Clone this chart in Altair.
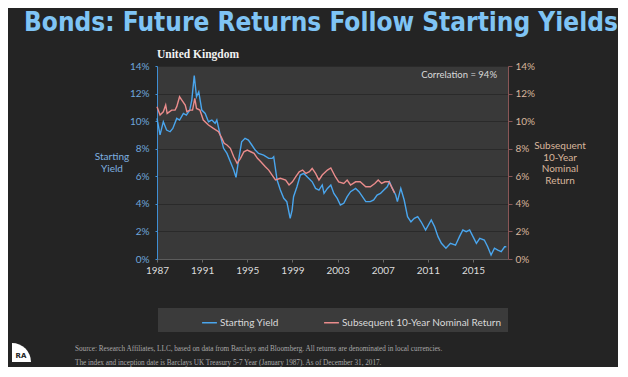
import altair as alt
import pandas as pd

# ---- data ----
yield_years = [1987.0, 1987.27, 1987.56, 1987.85, 1988.16, 1988.4, 1988.75, 1989.0, 1989.34, 1989.6,
               1989.9, 1990.08, 1990.3, 1990.5, 1990.7, 1990.97, 1991.27, 1991.56, 1991.86, 1992.15,
               1992.3, 1992.6, 1992.9, 1993.2, 1993.5, 1993.8, 1994.0, 1994.23, 1994.5, 1994.8,
               1995.1, 1995.4, 1995.7, 1996.0, 1996.45, 1996.9, 1997.2, 1997.34, 1997.64, 1997.93,
               1998.23, 1998.5, 1998.8, 1998.97, 1999.1, 1999.4, 1999.7, 2000.0, 2000.3, 2000.75,
               2001.05, 2001.35, 2001.64, 2001.8, 2002.1, 2002.4, 2002.67, 2002.97, 2003.25, 2003.55,
               2003.85, 2004.15, 2004.6, 2004.9, 2005.2, 2005.5, 2005.9, 2006.2, 2006.5, 2006.8,
               2007.1, 2007.4, 2007.6, 2007.85, 2008.15, 2008.3, 2008.6, 2008.9, 2009.2, 2009.5,
               2009.8, 2010.1, 2010.4, 2010.8, 2011.3, 2011.6, 2011.9, 2012.2, 2012.6, 2013.0,
               2013.45, 2013.8, 2014.1, 2014.4, 2014.7, 2015.0, 2015.3, 2015.6, 2016.0, 2016.3,
               2016.6, 2016.9, 2017.2, 2017.5, 2017.8, 2017.95]
yield_values = [10.2, 9.0, 9.96, 9.35, 9.23, 9.47, 10.2, 10.08, 10.56, 10.44,
                10.8, 11.5, 13.3, 11.77, 12.13, 10.8, 10.56, 9.96, 10.08, 9.84,
                10.08, 9.0, 8.03, 7.66, 7.06, 6.45, 5.92, 7.18, 8.5, 8.75,
                8.63, 8.27, 7.9, 7.66, 7.54, 7.3, 7.3, 7.42, 5.73, 5.0,
                4.4, 4.16, 2.95, 3.55, 4.52, 5.24, 6.09, 6.21, 5.97, 5.6,
                5.12, 5.0, 5.37, 4.76, 5.12, 5.37, 4.76, 4.4, 3.92, 4.04,
                4.52, 4.88, 5.12, 4.88, 4.52, 4.16, 4.16, 4.28, 4.64, 4.76,
                5.0, 5.24, 5.6, 5.12, 4.64, 4.16, 5.12, 4.28, 3.07, 2.7,
                2.95, 3.07, 2.7, 2.1, 2.83, 2.34, 1.62, 1.14, 0.78, 1.14,
                1.0, 1.62, 2.1, 1.98, 2.1, 1.62, 1.14, 1.5, 1.38, 0.89,
                0.29, 0.78, 0.65, 0.53, 0.89, 0.89]

return_years = [1987.0, 1987.27, 1987.56, 1987.77, 1987.9, 1988.3, 1988.6, 1988.75, 1989.0, 1989.2,
                1989.5, 1989.65, 1989.9, 1990.15, 1990.35, 1990.5, 1990.8, 1991.1, 1991.56, 1992.0,
                1992.45, 1992.75, 1992.95, 1993.2, 1993.5, 1993.8, 1994.1, 1994.4, 1994.7, 1995.0,
                1995.3, 1995.6, 1995.9, 1996.2, 1996.6, 1996.9, 1997.2, 1997.5, 1997.93, 1998.4,
                1998.7, 1999.0, 1999.3, 1999.6, 1999.9, 2000.2, 2000.5, 2000.75, 2001.05, 2001.35,
                2001.64, 2002.1, 2002.4, 2002.8, 2003.1, 2003.55, 2003.85, 2004.15, 2004.6, 2005.0,
                2005.5, 2005.9, 2006.3, 2006.6, 2006.9, 2007.2, 2007.55, 2007.85, 2008.05]
return_values = [11.05, 10.44, 10.68, 11.17, 10.56, 10.8, 10.8, 11.05, 11.77, 11.53,
                 11.17, 10.68, 10.8, 10.8, 11.65, 10.92, 10.8, 10.08, 9.72, 9.47,
                 9.23, 8.75, 8.39, 8.27, 8.03, 7.42, 6.94, 7.3, 7.78, 7.9,
                 7.78, 7.66, 7.3, 7.06, 6.69, 6.45, 6.09, 5.73, 5.85, 5.73,
                 5.37, 5.6, 5.97, 6.33, 6.45, 6.21, 6.33, 6.57, 6.21, 5.73,
                 6.09, 6.45, 6.6, 5.97, 5.6, 5.48, 5.73, 5.37, 5.6, 5.6,
                 5.24, 5.24, 5.48, 5.73, 5.48, 5.6, 5.6, 5.12, 4.8]

series_names = ["Starting Yield", "Subsequent 10-Year Nominal Return"]
series_colors = ["#4aa6ee", "#ea8c8c"]
year_ticks = [1987, 1991, 1995, 1999, 2003, 2007, 2011, 2015]
pct_ticks = [0, 2, 4, 6, 8, 10, 12, 14]

title_text = "Bonds: Future Returns Follow Starting Yields"
subtitle_text = "United Kingdom"
corr_text = "Correlation = 94%"
left_axis_title = "Starting\nYield"
right_axis_title = "Subsequent\n10-Year\nNominal\nReturn"
footer_lines = [
    "Source: Research Affiliates, LLC, based on data from Barclays and Bloomberg. All returns are denominated in local currencies.",
    "The index and inception date is Barclays UK Treasury 5-7 Year (January 1987). As of December 31, 2017.",
]

# ---- tables ----
yield_df = pd.DataFrame({"year": yield_years, "value": yield_values, "series": series_names[0]})
return_df = pd.DataFrame({"year": return_years, "value": return_values, "series": series_names[1]})

W, H = 351, 193
FONT = "Lato"

x_enc = alt.X("year:Q",
              scale=alt.Scale(domain=[1987, 2018.1], nice=False, zero=False),
              axis=alt.Axis(values=year_ticks, format="d", title=None, grid=False, labelFlush=False,
                            labelColor="#dcdcdc", labelFontSize=10, labelFont=FONT, labelPadding=3,
                            domainColor="#5c5c5c", tickColor="#6a6a6a", tickSize=3))

color_enc = alt.Color("series:N",
                      scale=alt.Scale(domain=series_names, range=series_colors),
                      legend=alt.Legend(orient="none", legendX=44, legendY=248, direction="horizontal",
                                        title=None, symbolType="stroke", symbolSize=220,
                                        symbolStrokeWidth=1.5, labelColor="#d9d9d9", labelFontSize=10,
                                        labelFont=FONT, columnPadding=42, labelOffset=2))

left_line = alt.Chart(yield_df).mark_line(strokeWidth=1.4).encode(
    x=x_enc,
    y=alt.Y("value:Q", scale=alt.Scale(domain=[0, 14], nice=False),
            axis=alt.Axis(values=pct_ticks, labelExpr="datum.value + '%'", title=None, labelFlush=False,
                          grid=True, gridColor="#2a2a2a", gridWidth=1,
                          domainColor="#3f8ed4", tickColor="#3f8ed4", tickSize=2,
                          labelColor="#6fa6dc", labelFontSize=10, labelFont=FONT, labelPadding=6)),
    color=color_enc,
)

right_line = alt.Chart(return_df).mark_line(strokeWidth=1.4).encode(
    x=x_enc,
    y=alt.Y("value:Q", scale=alt.Scale(domain=[0, 14], nice=False),
            axis=alt.Axis(orient="right", values=pct_ticks, labelExpr="datum.value + '%'", title=None,
                          labelFlush=False, grid=False, domainColor="#8a5656", tickColor="#8a5656",
                          tickSize=4, labelColor="#d8b69c", labelFontSize=10, labelFont=FONT,
                          labelPadding=3)),
    color=color_enc,
)

def label(text, x, y, size, color, font=FONT, weight="normal", align="left", baseline="middle", lh=None):
    kw = dict(align=align, baseline=baseline, fontSize=size, color=color, font=font, fontWeight=weight)
    if lh is not None:
        kw["lineBreak"] = "\n"
        kw["lineHeight"] = lh
    return alt.Chart(pd.DataFrame({"t": [text]})).mark_text(**kw).encode(
        x=alt.value(x), y=alt.value(y), text="t:N")

legend_box = alt.Chart(pd.DataFrame({"a": [0]})).mark_rect(color="#3b3b3b").encode(
    x=alt.value(1), x2=alt.value(351), y=alt.value(242), y2=alt.value(266))

logo = alt.Chart(pd.DataFrame({"a": [0]})).mark_arc(
    theta=0, theta2=1.5708, radius=19, color="#ffffff").encode(
    x=alt.value(-145), y=alt.value(296))

layers = [
    legend_box,
    left_line,
    right_line,
    label(title_text, -133, -35, 26, "#7fc4f5", font="DejaVu Sans Condensed", weight="bold",
          baseline="alphabetic"),
    label(subtitle_text, 41, -8, 11.5, "#f2f2f2", font="Liberation Serif", weight="bold",
          align="center", baseline="alphabetic"),
    label(corr_text, 340, 9, 9.5, "#dadada", align="right"),
    label(left_axis_title, -45, 91, 10, "#7fb0e0", align="center", baseline="middle", lh=12),
    label(right_axis_title, 403, 80, 10, "#d8b69c", align="center", baseline="middle", lh=11.7),
    label(footer_lines[0], -82, 283, 7.2, "#a8a8a8", font="Liberation Serif"),
    label(footer_lines[1], -82, 297, 7.2, "#a8a8a8", font="Liberation Serif"),
    logo,
    label("RA", -136, 290, 7, "#222222", font="DejaVu Sans", weight="bold", align="center"),
]

chart = alt.layer(*layers).resolve_scale(y="independent").properties(
    width=W, height=H,
    autosize=alt.AutoSizeParams(type="none"),
    padding={"left": 149, "top": 58, "right": 110, "bottom": 108},
    background="#242424",
).configure_view(fill="#393939", stroke=None)

chart.save("out.html", embed_options={"renderer": "svg", "actions": False})
